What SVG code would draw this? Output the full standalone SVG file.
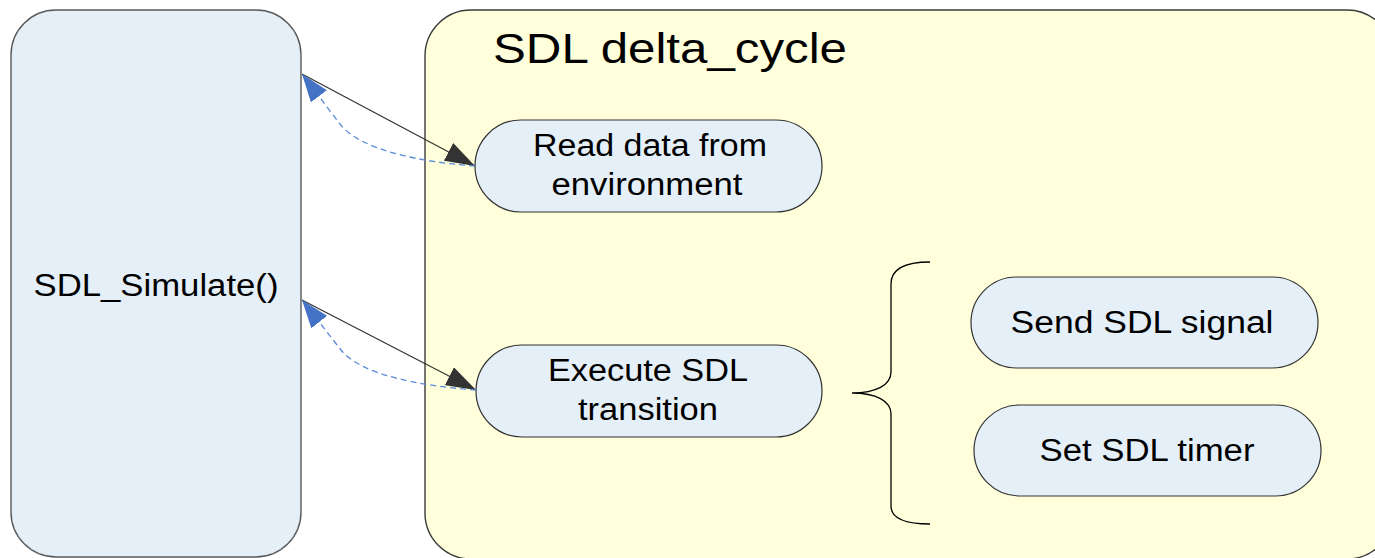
<svg xmlns="http://www.w3.org/2000/svg" width="1375" height="558" viewBox="0 0 1375 558">
  <style>
    .panel-blue { fill: #E5EFF8; stroke: #5a5a5a; stroke-width: 1.4; }
    .panel-yellow { fill: #FFFFDC; stroke: #3a3a3a; stroke-width: 1.4; }
    .pill { fill: #E5EFF8; stroke: #333333; stroke-width: 1.2; }
    .label { font-family: "Liberation Sans", Arial, sans-serif; font-size: 31px; fill: #000000; }
    .title { font-family: "Liberation Sans", Arial, sans-serif; font-size: 43px; fill: #000000; }
    .call { fill: none; stroke: #333333; stroke-width: 1.2; }
    .ret { fill: none; stroke: #5B8BD8; stroke-width: 1.3; stroke-dasharray: 6 4; }
    .brace { fill: none; stroke: #000000; stroke-width: 1.3; }
  </style>
  <defs>
    <marker id="head-dark" viewBox="0 0 30 20" refX="30" refY="10" markerWidth="30" markerHeight="20" markerUnits="userSpaceOnUse" orient="auto">
      <path d="M0,0 L30,10 L0,20 Z" fill="#333333"/>
    </marker>
    <marker id="head-blue" viewBox="0 0 28 20" refX="28" refY="10" markerWidth="28" markerHeight="20" markerUnits="userSpaceOnUse" orient="auto">
      <path d="M0,0 L28,10 L0,20 Z" fill="#4472C4"/>
    </marker>
  </defs>

  <!-- simulator driver -->
  <g id="sdl-simulate">
    <rect class="panel-blue" x="11" y="10" width="290" height="547" rx="45" ry="45"/>
    <text class="label" x="156" y="296" text-anchor="middle" textLength="245" lengthAdjust="spacingAndGlyphs">SDL_Simulate()</text>
  </g>

  <!-- delta cycle container -->
  <g id="delta-cycle">
    <rect class="panel-yellow" x="425" y="10" width="968" height="549" rx="46" ry="46"/>
    <text class="title" x="493" y="63" textLength="354" lengthAdjust="spacingAndGlyphs">SDL delta_cycle</text>
  </g>

  <g id="read-data">
    <rect class="pill" x="475" y="120" width="347" height="92" rx="46" ry="46"/>
    <text class="label" x="650" y="156" text-anchor="middle" textLength="234" lengthAdjust="spacingAndGlyphs">Read data from</text>
    <text class="label" x="647" y="195" text-anchor="middle" textLength="191" lengthAdjust="spacingAndGlyphs">environment</text>
  </g>

  <g id="execute-transition">
    <rect class="pill" x="476" y="345" width="346" height="92" rx="46" ry="46"/>
    <text class="label" x="648" y="381" text-anchor="middle" textLength="200" lengthAdjust="spacingAndGlyphs">Execute SDL</text>
    <text class="label" x="648" y="420" text-anchor="middle" textLength="140" lengthAdjust="spacingAndGlyphs">transition</text>
  </g>

  <g id="send-signal">
    <rect class="pill" x="971" y="277" width="347" height="91" rx="45.5" ry="45.5"/>
    <text class="label" x="1142" y="333" text-anchor="middle" textLength="263" lengthAdjust="spacingAndGlyphs">Send SDL signal</text>
  </g>

  <g id="set-timer">
    <rect class="pill" x="974" y="405" width="347" height="91" rx="45.5" ry="45.5"/>
    <text class="label" x="1147" y="461" text-anchor="middle" textLength="215" lengthAdjust="spacingAndGlyphs">Set SDL timer</text>
  </g>

  <!-- connectors -->
  <g id="connectors">
    <line class="call" x1="302" y1="74" x2="475" y2="166" marker-end="url(#head-dark)"/>
    <path class="ret" d="M475,166 C420,162 360,150 340,124 L302,74" marker-end="url(#head-blue)"/>

    <line class="call" x1="302" y1="300" x2="476" y2="390" marker-end="url(#head-dark)"/>
    <path class="ret" d="M476,390 C421,386 361,375 341,350 L302,300" marker-end="url(#head-blue)"/>

    <path class="brace" d="M930,262 C902,262 891,270 891,284 L891,372 C891,385 876,393 852,393 C876,393 891,401 891,414 L891,506 C891,518 904,524 930,524"/>
  </g>
</svg>
